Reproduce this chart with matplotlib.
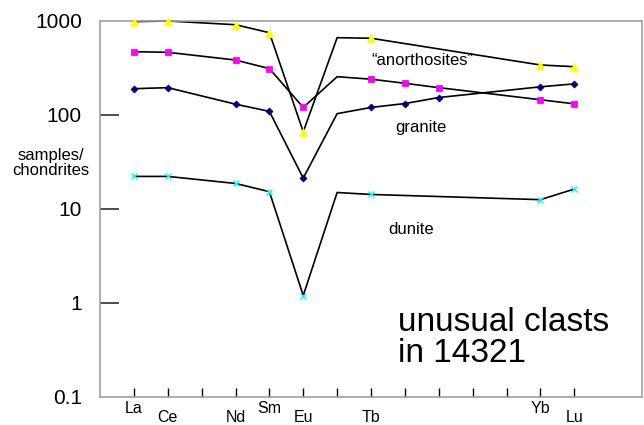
import matplotlib
matplotlib.use("Agg")
import matplotlib.pyplot as plt
from matplotlib.ticker import NullLocator, FixedLocator

plt.rcParams['font.family'] = ['Liberation Sans', 'DejaVu Sans']

# Rare earth elements along the x axis (Pm omitted)
elements = ["La", "Ce", "Pr", "Nd", "Sm", "Eu", "Gd", "Tb",
            "Dy", "Ho", "Er", "Tm", "Yb", "Lu"]
labelled_up = ["La", "Sm", "Yb"]
labelled_down = ["Ce", "Nd", "Eu", "Tb", "Lu"]

# Chondrite-normalised abundances; Gd is a line vertex only (no marker)
anorth_el = ["La", "Ce", "Nd", "Sm", "Eu", "Gd", "Tb", "Yb", "Lu"]
anorth_val = [984, 1000, 913, 751, 66, 664, 655, 340, 326]

magenta_el = ["La", "Ce", "Nd", "Sm", "Eu", "Gd", "Tb", "Dy", "Ho", "Yb", "Lu"]
magenta_val = [471, 464, 384, 311, 120, 255, 240, 217, 195, 145, 131]

granite_el = ["La", "Ce", "Nd", "Sm", "Eu", "Gd", "Tb", "Dy", "Ho", "Yb", "Lu"]
granite_val = [190, 195, 130, 109, 21.2, 103, 120, 132, 153, 199, 214]

dunite_el = ["La", "Ce", "Nd", "Sm", "Eu", "Gd", "Tb", "Yb", "Lu"]
dunite_val = [22.1, 22.1, 18.6, 15.2, 1.19, 14.9, 14.2, 12.5, 16.2]

y_ticks = [0.1, 1, 10, 100, 1000]
y_ticklabels = ["0.1", "1", "10", "100", "1000"]

W, H = 644, 425
fig = plt.figure(figsize=(W / 100, H / 100), dpi=100)
left, right, top, bottom = 100, 642, 21, 396.5
ax = fig.add_axes([left / W, (H - bottom) / H, (right - left) / W, (bottom - top) / H])

ax.set_yscale("log")
ax.set_ylim(0.1, 1000)
ax.set_xlim(-1, 15)

series = [
    (anorth_el, anorth_val, "^", "#ffff00", 5.4),
    (magenta_el, magenta_val, "s", "#ff00ff", 4.6),
    (granite_el, granite_val, "D", "#000080", 3.5),
    (dunite_el, dunite_val, "x", "#00ffff", 4.3),
]
for els, vals, mk, col, ms in series:
    xs = [elements.index(e) for e in els]
    ax.plot(xs, vals, color="black", lw=1.2, zorder=2, clip_on=False)
    keep = [i for i, e in enumerate(els) if e != "Gd"]
    ax.plot([xs[i] for i in keep], [vals[i] for i in keep], linestyle="none",
            marker=mk, color=col, markersize=ms, markeredgewidth=1.0 if mk == "x" else 0.6,
            markeredgecolor=col, zorder=3, clip_on=False)

# Spines
for s in ax.spines.values():
    s.set_color("#a0a0a0")
    s.set_linewidth(1.2)

# y axis
ax.yaxis.set_major_locator(FixedLocator(y_ticks))
ax.set_yticklabels(y_ticklabels)
ax.yaxis.set_minor_locator(NullLocator())
ax.tick_params(axis="y", which="major", direction="in", length=13.7, width=1.3,
               color="#404040", pad=13, labelsize=15)
yt = ax.yaxis.get_major_ticks()
yt[0].tick1line.set_visible(False)
yt[-1].tick1line.set_visible(False)

# x axis: major ticks carry the raised labels, minor ticks the lowered ones
up_pos = [elements.index(e) for e in labelled_up]
other_pos = [i for i in range(len(elements)) if i not in up_pos]
ax.xaxis.set_major_locator(FixedLocator(up_pos))
ax.set_xticklabels(labelled_up)
ax.xaxis.set_minor_locator(FixedLocator(other_pos))
ax.set_xticklabels([elements[i] if elements[i] in labelled_down else "" for i in other_pos],
                   minor=True)
ax.tick_params(axis="x", which="major", direction="in", length=6.8, width=1.0,
               color="black", pad=3.5, labelsize=11.5)
ax.tick_params(axis="x", which="minor", direction="in", length=6.8, width=1.0,
               color="black", pad=9.5, labelsize=11.5)

# Axis title
fig.text(51 / W, 1 - 163 / H, "samples/\nchondrites", ha="center", va="center",
         fontsize=12, linespacing=1.0)

# Annotations
ax.text(8.53, 378, "\u201canorthosites\u201d", ha="center", va="center", fontsize=12)
ax.text(8.48, 72.8, "granite", ha="center", va="center", fontsize=12)
ax.text(8.17, 6.0, "dunite", ha="center", va="center", fontsize=12)
ax.text(7.8, 0.495, "unusual clasts", ha="left", va="baseline", fontsize=24)
ax.text(7.8, 0.233, "in 14321", ha="left", va="baseline", fontsize=24)

fig.savefig("out.png", dpi=100)
